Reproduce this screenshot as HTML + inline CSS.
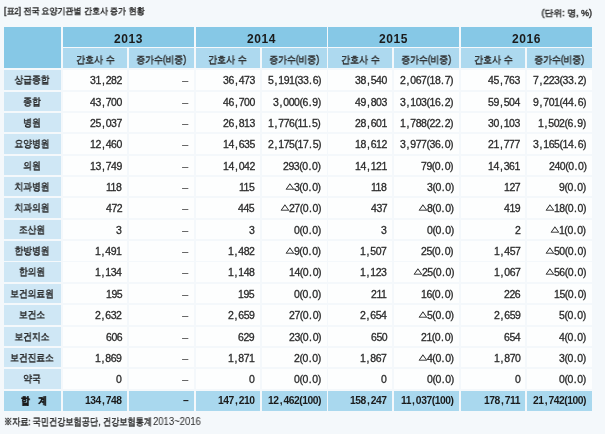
<!DOCTYPE html>
<html lang="ko">
<head>
<meta charset="utf-8">
<title>표2</title>
<style>
html,body{margin:0;padding:0;background:#fff;}
body{width:609px;height:435px;position:relative;overflow:hidden;font-family:"Liberation Sans",sans-serif;color:#222;}
#bg{position:absolute;left:0;top:0;width:604.8px;height:434.2px;background:#F4F8FB;}
.c{position:absolute;box-sizing:border-box;white-space:nowrap;overflow:visible;}
.c span,.cap span{display:inline-block;will-change:transform;filter:blur(.3px);}
.k{transform:scaleX(0.87);-webkit-text-stroke:.4px currentColor;}
.y{background:#86C8E6;text-align:center;font-weight:bold;font-size:12px;letter-spacing:.6px;color:#1a1a1a;}
.s{background:#ADD9EF;text-align:center;font-size:10.0px;color:#2a2a2a;}
.l{background:#CFE7F5;text-align:center;font-size:10.0px;color:#222;}
.d{background:#FDFEFE;text-align:right;font-size:10.5px;padding-right:5.8px;color:#2a2a2a;}
.p1,.p3{padding-right:5.2px;}.p6{padding-right:5.3px;}.p7{padding-right:5px;}
.d span.m{color:#555;transform:translate(-.8px,-.3px);}
.d span{letter-spacing:-.45px;}
u{text-decoration:none;margin-left:1.1px;letter-spacing:.9px;}
u.p{margin-left:.8px;letter-spacing:.7px;}
.d span{transform-origin:100% 50%;will-change:transform;-webkit-text-stroke:.3px currentColor;}
.y span{will-change:transform;}
.d.t span{-webkit-text-stroke:0;}
.t{background:#A9D8EE;font-weight:bold;color:#1a1a1a;}
.l.t{word-spacing:7.5px;padding-left:3px;}
.l.t .k{-webkit-text-stroke:.45px currentColor;}
.d.t{font-size:10.3px;}
.h{background:#86C8E6;}
.cap{position:absolute;font-size:10.0px;color:#2a2a2a;white-space:nowrap;}
.cap.le span{transform-origin:0 50%;}
.cap.ri span{transform-origin:100% 50%;}
i{font-style:normal;font-size:8px;display:inline-block;transform:translateY(-2.6px) scale(1.2,.85);transform-origin:50% 85%;-webkit-text-stroke:.4px currentColor;margin:0 .6px 0 .8px;}
</style>
</head>
<body>
<div id="bg"></div>
<div class="cap le" style="left:3.70px;top:4.80px;font-size:9px;"><span class="k" style="transform:scaleX(.89)">[표2] 전국 요양기관별 간호사 증가 현황</span></div>
<div class="cap ri" style="right:17.20px;top:7.00px;font-size:9px;"><span class="k" style="transform:scaleX(.99)">(단위: 명, %)</span></div>
<div class="c h" style="left:3.80px;top:26.90px;width:56.80px;height:41.00px;line-height:41.00px;"></div>
<div class="c y" style="left:63.30px;top:26.90px;width:130.55px;height:20.00px;line-height:24.20px;"><span>2013</span></div>
<div class="c s" style="left:63.30px;top:47.80px;width:63.75px;height:20.05px;line-height:23.05px;"><span class="k" style="transform:scaleX(.9)">간호사 수</span></div>
<div class="c s" style="left:128.95px;top:47.80px;width:64.90px;height:20.05px;line-height:23.05px;"><span class="k" style="transform:scaleX(.88)">증가수(비중)</span></div>
<div class="c y" style="left:195.75px;top:26.90px;width:130.80px;height:20.00px;line-height:24.20px;"><span>2014</span></div>
<div class="c s" style="left:195.75px;top:47.80px;width:63.90px;height:20.05px;line-height:23.05px;"><span class="k" style="transform:scaleX(.9)">간호사 수</span></div>
<div class="c s" style="left:261.55px;top:47.80px;width:65.00px;height:20.05px;line-height:23.05px;"><span class="k" style="transform:scaleX(.88)">증가수(비중)</span></div>
<div class="c y" style="left:328.45px;top:26.90px;width:130.40px;height:20.00px;line-height:24.20px;"><span>2015</span></div>
<div class="c s" style="left:328.45px;top:47.80px;width:64.05px;height:20.05px;line-height:23.05px;"><span class="k" style="transform:scaleX(.9)">간호사 수</span></div>
<div class="c s" style="left:394.40px;top:47.80px;width:64.45px;height:20.05px;line-height:23.05px;"><span class="k" style="transform:scaleX(.88)">증가수(비중)</span></div>
<div class="c y" style="left:460.75px;top:26.90px;width:131.15px;height:20.00px;line-height:24.20px;"><span>2016</span></div>
<div class="c s" style="left:460.75px;top:47.80px;width:64.40px;height:20.05px;line-height:23.05px;"><span class="k" style="transform:scaleX(.9)">간호사 수</span></div>
<div class="c s" style="left:527.05px;top:47.80px;width:64.85px;height:20.05px;line-height:23.05px;"><span class="k" style="transform:scaleX(.88)">증가수(비중)</span></div>
<div class="c l" style="left:3.80px;top:70.15px;width:56.80px;height:19.40px;line-height:20.20px;"><span class="k">상급종합</span></div>
<div class="c d p1" style="left:63.30px;top:70.15px;width:63.75px;height:19.40px;line-height:21.70px;"><span>31<u>,</u>282</span></div>
<div class="c d p2" style="left:128.95px;top:70.15px;width:64.90px;height:19.40px;line-height:21.70px;"><span class="m">–</span></div>
<div class="c d p3" style="left:195.75px;top:70.15px;width:63.90px;height:19.40px;line-height:21.70px;"><span>36<u>,</u>473</span></div>
<div class="c d p4" style="left:261.55px;top:70.15px;width:65.00px;height:19.40px;line-height:21.70px;"><span>5<u>,</u>191(33<u class="p">.</u>6)</span></div>
<div class="c d p5" style="left:328.45px;top:70.15px;width:64.05px;height:19.40px;line-height:21.70px;"><span>38<u>,</u>540</span></div>
<div class="c d p6" style="left:394.40px;top:70.15px;width:64.45px;height:19.40px;line-height:21.70px;"><span>2<u>,</u>067(18<u class="p">.</u>7)</span></div>
<div class="c d p7" style="left:460.75px;top:70.15px;width:64.40px;height:19.40px;line-height:21.70px;"><span>45<u>,</u>763</span></div>
<div class="c d p8" style="left:527.05px;top:70.15px;width:64.85px;height:19.40px;line-height:21.70px;"><span>7<u>,</u>223(33<u class="p">.</u>2)</span></div>
<div class="c l" style="left:3.80px;top:91.52px;width:56.80px;height:19.40px;line-height:20.20px;"><span class="k">종합</span></div>
<div class="c d p1" style="left:63.30px;top:91.52px;width:63.75px;height:19.40px;line-height:21.70px;"><span>43<u>,</u>700</span></div>
<div class="c d p2" style="left:128.95px;top:91.52px;width:64.90px;height:19.40px;line-height:21.70px;"><span class="m">–</span></div>
<div class="c d p3" style="left:195.75px;top:91.52px;width:63.90px;height:19.40px;line-height:21.70px;"><span>46<u>,</u>700</span></div>
<div class="c d p4" style="left:261.55px;top:91.52px;width:65.00px;height:19.40px;line-height:21.70px;"><span>3<u>,</u>000(6<u class="p">.</u>9)</span></div>
<div class="c d p5" style="left:328.45px;top:91.52px;width:64.05px;height:19.40px;line-height:21.70px;"><span>49<u>,</u>803</span></div>
<div class="c d p6" style="left:394.40px;top:91.52px;width:64.45px;height:19.40px;line-height:21.70px;"><span>3<u>,</u>103(16<u class="p">.</u>2)</span></div>
<div class="c d p7" style="left:460.75px;top:91.52px;width:64.40px;height:19.40px;line-height:21.70px;"><span>59<u>,</u>504</span></div>
<div class="c d p8" style="left:527.05px;top:91.52px;width:64.85px;height:19.40px;line-height:21.70px;"><span>9<u>,</u>701(44<u class="p">.</u>6)</span></div>
<div class="c l" style="left:3.80px;top:112.89px;width:56.80px;height:19.40px;line-height:20.20px;"><span class="k">병원</span></div>
<div class="c d p1" style="left:63.30px;top:112.89px;width:63.75px;height:19.40px;line-height:21.70px;"><span>25<u>,</u>037</span></div>
<div class="c d p2" style="left:128.95px;top:112.89px;width:64.90px;height:19.40px;line-height:21.70px;"><span class="m">–</span></div>
<div class="c d p3" style="left:195.75px;top:112.89px;width:63.90px;height:19.40px;line-height:21.70px;"><span>26<u>,</u>813</span></div>
<div class="c d p4" style="left:261.55px;top:112.89px;width:65.00px;height:19.40px;line-height:21.70px;"><span>1<u>,</u>776(11<u class="p">.</u>5)</span></div>
<div class="c d p5" style="left:328.45px;top:112.89px;width:64.05px;height:19.40px;line-height:21.70px;"><span>28<u>,</u>601</span></div>
<div class="c d p6" style="left:394.40px;top:112.89px;width:64.45px;height:19.40px;line-height:21.70px;"><span>1<u>,</u>788(22<u class="p">.</u>2)</span></div>
<div class="c d p7" style="left:460.75px;top:112.89px;width:64.40px;height:19.40px;line-height:21.70px;"><span>30<u>,</u>103</span></div>
<div class="c d p8" style="left:527.05px;top:112.89px;width:64.85px;height:19.40px;line-height:21.70px;"><span>1<u>,</u>502(6<u class="p">.</u>9)</span></div>
<div class="c l" style="left:3.80px;top:134.26px;width:56.80px;height:19.40px;line-height:20.20px;"><span class="k">요양병원</span></div>
<div class="c d p1" style="left:63.30px;top:134.26px;width:63.75px;height:19.40px;line-height:21.70px;"><span>12<u>,</u>460</span></div>
<div class="c d p2" style="left:128.95px;top:134.26px;width:64.90px;height:19.40px;line-height:21.70px;"><span class="m">–</span></div>
<div class="c d p3" style="left:195.75px;top:134.26px;width:63.90px;height:19.40px;line-height:21.70px;"><span>14<u>,</u>635</span></div>
<div class="c d p4" style="left:261.55px;top:134.26px;width:65.00px;height:19.40px;line-height:21.70px;"><span>2<u>,</u>175(17<u class="p">.</u>5)</span></div>
<div class="c d p5" style="left:328.45px;top:134.26px;width:64.05px;height:19.40px;line-height:21.70px;"><span>18<u>,</u>612</span></div>
<div class="c d p6" style="left:394.40px;top:134.26px;width:64.45px;height:19.40px;line-height:21.70px;"><span>3<u>,</u>977(36<u class="p">.</u>0)</span></div>
<div class="c d p7" style="left:460.75px;top:134.26px;width:64.40px;height:19.40px;line-height:21.70px;"><span>21<u>,</u>777</span></div>
<div class="c d p8" style="left:527.05px;top:134.26px;width:64.85px;height:19.40px;line-height:21.70px;"><span>3<u>,</u>165(14<u class="p">.</u>6)</span></div>
<div class="c l" style="left:3.80px;top:155.63px;width:56.80px;height:19.40px;line-height:20.20px;"><span class="k">의원</span></div>
<div class="c d p1" style="left:63.30px;top:155.63px;width:63.75px;height:19.40px;line-height:21.70px;"><span>13<u>,</u>749</span></div>
<div class="c d p2" style="left:128.95px;top:155.63px;width:64.90px;height:19.40px;line-height:21.70px;"><span class="m">–</span></div>
<div class="c d p3" style="left:195.75px;top:155.63px;width:63.90px;height:19.40px;line-height:21.70px;"><span>14<u>,</u>042</span></div>
<div class="c d p4" style="left:261.55px;top:155.63px;width:65.00px;height:19.40px;line-height:21.70px;"><span>293(0<u class="p">.</u>0)</span></div>
<div class="c d p5" style="left:328.45px;top:155.63px;width:64.05px;height:19.40px;line-height:21.70px;"><span>14<u>,</u>121</span></div>
<div class="c d p6" style="left:394.40px;top:155.63px;width:64.45px;height:19.40px;line-height:21.70px;"><span>79(0<u class="p">.</u>0)</span></div>
<div class="c d p7" style="left:460.75px;top:155.63px;width:64.40px;height:19.40px;line-height:21.70px;"><span>14<u>,</u>361</span></div>
<div class="c d p8" style="left:527.05px;top:155.63px;width:64.85px;height:19.40px;line-height:21.70px;"><span>240(0<u class="p">.</u>0)</span></div>
<div class="c l" style="left:3.80px;top:177.00px;width:56.80px;height:19.40px;line-height:20.20px;"><span class="k">치과병원</span></div>
<div class="c d p1" style="left:63.30px;top:177.00px;width:63.75px;height:19.40px;line-height:21.70px;"><span>118</span></div>
<div class="c d p2" style="left:128.95px;top:177.00px;width:64.90px;height:19.40px;line-height:21.70px;"><span class="m">–</span></div>
<div class="c d p3" style="left:195.75px;top:177.00px;width:63.90px;height:19.40px;line-height:21.70px;"><span>115</span></div>
<div class="c d p4" style="left:261.55px;top:177.00px;width:65.00px;height:19.40px;line-height:21.70px;"><span><i>△</i>3(0<u class="p">.</u>0)</span></div>
<div class="c d p5" style="left:328.45px;top:177.00px;width:64.05px;height:19.40px;line-height:21.70px;"><span>118</span></div>
<div class="c d p6" style="left:394.40px;top:177.00px;width:64.45px;height:19.40px;line-height:21.70px;"><span>3(0<u class="p">.</u>0)</span></div>
<div class="c d p7" style="left:460.75px;top:177.00px;width:64.40px;height:19.40px;line-height:21.70px;"><span>127</span></div>
<div class="c d p8" style="left:527.05px;top:177.00px;width:64.85px;height:19.40px;line-height:21.70px;"><span>9(0<u class="p">.</u>0)</span></div>
<div class="c l" style="left:3.80px;top:198.37px;width:56.80px;height:19.40px;line-height:20.20px;"><span class="k">치과의원</span></div>
<div class="c d p1" style="left:63.30px;top:198.37px;width:63.75px;height:19.40px;line-height:21.70px;"><span>472</span></div>
<div class="c d p2" style="left:128.95px;top:198.37px;width:64.90px;height:19.40px;line-height:21.70px;"><span class="m">–</span></div>
<div class="c d p3" style="left:195.75px;top:198.37px;width:63.90px;height:19.40px;line-height:21.70px;"><span>445</span></div>
<div class="c d p4" style="left:261.55px;top:198.37px;width:65.00px;height:19.40px;line-height:21.70px;"><span><i>△</i>27(0<u class="p">.</u>0)</span></div>
<div class="c d p5" style="left:328.45px;top:198.37px;width:64.05px;height:19.40px;line-height:21.70px;"><span>437</span></div>
<div class="c d p6" style="left:394.40px;top:198.37px;width:64.45px;height:19.40px;line-height:21.70px;"><span><i>△</i>8(0<u class="p">.</u>0)</span></div>
<div class="c d p7" style="left:460.75px;top:198.37px;width:64.40px;height:19.40px;line-height:21.70px;"><span>419</span></div>
<div class="c d p8" style="left:527.05px;top:198.37px;width:64.85px;height:19.40px;line-height:21.70px;"><span><i>△</i>18(0<u class="p">.</u>0)</span></div>
<div class="c l" style="left:3.80px;top:219.74px;width:56.80px;height:19.40px;line-height:20.20px;"><span class="k">조산원</span></div>
<div class="c d p1" style="left:63.30px;top:219.74px;width:63.75px;height:19.40px;line-height:21.70px;"><span>3</span></div>
<div class="c d p2" style="left:128.95px;top:219.74px;width:64.90px;height:19.40px;line-height:21.70px;"><span class="m">–</span></div>
<div class="c d p3" style="left:195.75px;top:219.74px;width:63.90px;height:19.40px;line-height:21.70px;"><span>3</span></div>
<div class="c d p4" style="left:261.55px;top:219.74px;width:65.00px;height:19.40px;line-height:21.70px;"><span>0(0<u class="p">.</u>0)</span></div>
<div class="c d p5" style="left:328.45px;top:219.74px;width:64.05px;height:19.40px;line-height:21.70px;"><span>3</span></div>
<div class="c d p6" style="left:394.40px;top:219.74px;width:64.45px;height:19.40px;line-height:21.70px;"><span>0(0<u class="p">.</u>0)</span></div>
<div class="c d p7" style="left:460.75px;top:219.74px;width:64.40px;height:19.40px;line-height:21.70px;"><span>2</span></div>
<div class="c d p8" style="left:527.05px;top:219.74px;width:64.85px;height:19.40px;line-height:21.70px;"><span><i>△</i>1(0<u class="p">.</u>0)</span></div>
<div class="c l" style="left:3.80px;top:241.11px;width:56.80px;height:19.40px;line-height:20.20px;"><span class="k">한방병원</span></div>
<div class="c d p1" style="left:63.30px;top:241.11px;width:63.75px;height:19.40px;line-height:21.70px;"><span>1<u>,</u>491</span></div>
<div class="c d p2" style="left:128.95px;top:241.11px;width:64.90px;height:19.40px;line-height:21.70px;"><span class="m">–</span></div>
<div class="c d p3" style="left:195.75px;top:241.11px;width:63.90px;height:19.40px;line-height:21.70px;"><span>1<u>,</u>482</span></div>
<div class="c d p4" style="left:261.55px;top:241.11px;width:65.00px;height:19.40px;line-height:21.70px;"><span><i>△</i>9(0<u class="p">.</u>0)</span></div>
<div class="c d p5" style="left:328.45px;top:241.11px;width:64.05px;height:19.40px;line-height:21.70px;"><span>1<u>,</u>507</span></div>
<div class="c d p6" style="left:394.40px;top:241.11px;width:64.45px;height:19.40px;line-height:21.70px;"><span>25(0<u class="p">.</u>0)</span></div>
<div class="c d p7" style="left:460.75px;top:241.11px;width:64.40px;height:19.40px;line-height:21.70px;"><span>1<u>,</u>457</span></div>
<div class="c d p8" style="left:527.05px;top:241.11px;width:64.85px;height:19.40px;line-height:21.70px;"><span><i>△</i>50(0<u class="p">.</u>0)</span></div>
<div class="c l" style="left:3.80px;top:262.48px;width:56.80px;height:19.40px;line-height:20.20px;"><span class="k">한의원</span></div>
<div class="c d p1" style="left:63.30px;top:262.48px;width:63.75px;height:19.40px;line-height:21.70px;"><span>1<u>,</u>134</span></div>
<div class="c d p2" style="left:128.95px;top:262.48px;width:64.90px;height:19.40px;line-height:21.70px;"><span class="m">–</span></div>
<div class="c d p3" style="left:195.75px;top:262.48px;width:63.90px;height:19.40px;line-height:21.70px;"><span>1<u>,</u>148</span></div>
<div class="c d p4" style="left:261.55px;top:262.48px;width:65.00px;height:19.40px;line-height:21.70px;"><span>14(0<u class="p">.</u>0)</span></div>
<div class="c d p5" style="left:328.45px;top:262.48px;width:64.05px;height:19.40px;line-height:21.70px;"><span>1<u>,</u>123</span></div>
<div class="c d p6" style="left:394.40px;top:262.48px;width:64.45px;height:19.40px;line-height:21.70px;"><span><i>△</i>25(0<u class="p">.</u>0)</span></div>
<div class="c d p7" style="left:460.75px;top:262.48px;width:64.40px;height:19.40px;line-height:21.70px;"><span>1<u>,</u>067</span></div>
<div class="c d p8" style="left:527.05px;top:262.48px;width:64.85px;height:19.40px;line-height:21.70px;"><span><i>△</i>56(0<u class="p">.</u>0)</span></div>
<div class="c l" style="left:3.80px;top:283.85px;width:56.80px;height:19.40px;line-height:20.20px;"><span class="k">보건의료원</span></div>
<div class="c d p1" style="left:63.30px;top:283.85px;width:63.75px;height:19.40px;line-height:21.70px;"><span>195</span></div>
<div class="c d p2" style="left:128.95px;top:283.85px;width:64.90px;height:19.40px;line-height:21.70px;"><span class="m">–</span></div>
<div class="c d p3" style="left:195.75px;top:283.85px;width:63.90px;height:19.40px;line-height:21.70px;"><span>195</span></div>
<div class="c d p4" style="left:261.55px;top:283.85px;width:65.00px;height:19.40px;line-height:21.70px;"><span>0(0<u class="p">.</u>0)</span></div>
<div class="c d p5" style="left:328.45px;top:283.85px;width:64.05px;height:19.40px;line-height:21.70px;"><span>211</span></div>
<div class="c d p6" style="left:394.40px;top:283.85px;width:64.45px;height:19.40px;line-height:21.70px;"><span>16(0<u class="p">.</u>0)</span></div>
<div class="c d p7" style="left:460.75px;top:283.85px;width:64.40px;height:19.40px;line-height:21.70px;"><span>226</span></div>
<div class="c d p8" style="left:527.05px;top:283.85px;width:64.85px;height:19.40px;line-height:21.70px;"><span>15(0<u class="p">.</u>0)</span></div>
<div class="c l" style="left:3.80px;top:305.22px;width:56.80px;height:19.40px;line-height:20.20px;"><span class="k">보건소</span></div>
<div class="c d p1" style="left:63.30px;top:305.22px;width:63.75px;height:19.40px;line-height:21.70px;"><span>2<u>,</u>632</span></div>
<div class="c d p2" style="left:128.95px;top:305.22px;width:64.90px;height:19.40px;line-height:21.70px;"><span class="m">–</span></div>
<div class="c d p3" style="left:195.75px;top:305.22px;width:63.90px;height:19.40px;line-height:21.70px;"><span>2<u>,</u>659</span></div>
<div class="c d p4" style="left:261.55px;top:305.22px;width:65.00px;height:19.40px;line-height:21.70px;"><span>27(0<u class="p">.</u>0)</span></div>
<div class="c d p5" style="left:328.45px;top:305.22px;width:64.05px;height:19.40px;line-height:21.70px;"><span>2<u>,</u>654</span></div>
<div class="c d p6" style="left:394.40px;top:305.22px;width:64.45px;height:19.40px;line-height:21.70px;"><span><i>△</i>5(0<u class="p">.</u>0)</span></div>
<div class="c d p7" style="left:460.75px;top:305.22px;width:64.40px;height:19.40px;line-height:21.70px;"><span>2<u>,</u>659</span></div>
<div class="c d p8" style="left:527.05px;top:305.22px;width:64.85px;height:19.40px;line-height:21.70px;"><span>5(0<u class="p">.</u>0)</span></div>
<div class="c l" style="left:3.80px;top:326.59px;width:56.80px;height:19.40px;line-height:20.20px;"><span class="k">보건지소</span></div>
<div class="c d p1" style="left:63.30px;top:326.59px;width:63.75px;height:19.40px;line-height:21.70px;"><span>606</span></div>
<div class="c d p2" style="left:128.95px;top:326.59px;width:64.90px;height:19.40px;line-height:21.70px;"><span class="m">–</span></div>
<div class="c d p3" style="left:195.75px;top:326.59px;width:63.90px;height:19.40px;line-height:21.70px;"><span>629</span></div>
<div class="c d p4" style="left:261.55px;top:326.59px;width:65.00px;height:19.40px;line-height:21.70px;"><span>23(0<u class="p">.</u>0)</span></div>
<div class="c d p5" style="left:328.45px;top:326.59px;width:64.05px;height:19.40px;line-height:21.70px;"><span>650</span></div>
<div class="c d p6" style="left:394.40px;top:326.59px;width:64.45px;height:19.40px;line-height:21.70px;"><span>21(0<u class="p">.</u>0)</span></div>
<div class="c d p7" style="left:460.75px;top:326.59px;width:64.40px;height:19.40px;line-height:21.70px;"><span>654</span></div>
<div class="c d p8" style="left:527.05px;top:326.59px;width:64.85px;height:19.40px;line-height:21.70px;"><span>4(0<u class="p">.</u>0)</span></div>
<div class="c l" style="left:3.80px;top:347.96px;width:56.80px;height:19.40px;line-height:20.20px;"><span class="k">보건진료소</span></div>
<div class="c d p1" style="left:63.30px;top:347.96px;width:63.75px;height:19.40px;line-height:21.70px;"><span>1<u>,</u>869</span></div>
<div class="c d p2" style="left:128.95px;top:347.96px;width:64.90px;height:19.40px;line-height:21.70px;"><span class="m">–</span></div>
<div class="c d p3" style="left:195.75px;top:347.96px;width:63.90px;height:19.40px;line-height:21.70px;"><span>1<u>,</u>871</span></div>
<div class="c d p4" style="left:261.55px;top:347.96px;width:65.00px;height:19.40px;line-height:21.70px;"><span>2(0<u class="p">.</u>0)</span></div>
<div class="c d p5" style="left:328.45px;top:347.96px;width:64.05px;height:19.40px;line-height:21.70px;"><span>1<u>,</u>867</span></div>
<div class="c d p6" style="left:394.40px;top:347.96px;width:64.45px;height:19.40px;line-height:21.70px;"><span><i>△</i>4(0<u class="p">.</u>0)</span></div>
<div class="c d p7" style="left:460.75px;top:347.96px;width:64.40px;height:19.40px;line-height:21.70px;"><span>1<u>,</u>870</span></div>
<div class="c d p8" style="left:527.05px;top:347.96px;width:64.85px;height:19.40px;line-height:21.70px;"><span>3(0<u class="p">.</u>0)</span></div>
<div class="c l" style="left:3.80px;top:369.33px;width:56.80px;height:19.40px;line-height:20.20px;"><span class="k">약국</span></div>
<div class="c d p1" style="left:63.30px;top:369.33px;width:63.75px;height:19.40px;line-height:21.70px;"><span>0</span></div>
<div class="c d p2" style="left:128.95px;top:369.33px;width:64.90px;height:19.40px;line-height:21.70px;"><span class="m">–</span></div>
<div class="c d p3" style="left:195.75px;top:369.33px;width:63.90px;height:19.40px;line-height:21.70px;"><span>0</span></div>
<div class="c d p4" style="left:261.55px;top:369.33px;width:65.00px;height:19.40px;line-height:21.70px;"><span>0(0<u class="p">.</u>0)</span></div>
<div class="c d p5" style="left:328.45px;top:369.33px;width:64.05px;height:19.40px;line-height:21.70px;"><span>0</span></div>
<div class="c d p6" style="left:394.40px;top:369.33px;width:64.45px;height:19.40px;line-height:21.70px;"><span>0(0<u class="p">.</u>0)</span></div>
<div class="c d p7" style="left:460.75px;top:369.33px;width:64.40px;height:19.40px;line-height:21.70px;"><span>0</span></div>
<div class="c d p8" style="left:527.05px;top:369.33px;width:64.85px;height:19.40px;line-height:21.70px;"><span>0(0<u class="p">.</u>0)</span></div>
<div class="c l t" style="left:3.80px;top:390.65px;width:56.80px;height:20.20px;line-height:19.00px;"><span class="k">합 계</span></div>
<div class="c d p1 t" style="left:63.30px;top:390.65px;width:63.75px;height:20.20px;line-height:20.50px;"><span>134<u>,</u>748</span></div>
<div class="c d p2 t" style="left:128.95px;top:390.65px;width:64.90px;height:20.20px;line-height:20.50px;"><span>–</span></div>
<div class="c d p3 t" style="left:195.75px;top:390.65px;width:63.90px;height:20.20px;line-height:20.50px;"><span>147<u>,</u>210</span></div>
<div class="c d p4 t" style="left:261.55px;top:390.65px;width:65.00px;height:20.20px;line-height:20.50px;"><span>12<u>,</u>462(100)</span></div>
<div class="c d p5 t" style="left:328.45px;top:390.65px;width:64.05px;height:20.20px;line-height:20.50px;"><span>158<u>,</u>247</span></div>
<div class="c d p6 t" style="left:394.40px;top:390.65px;width:64.45px;height:20.20px;line-height:20.50px;"><span>11<u>,</u>037(100)</span></div>
<div class="c d p7 t" style="left:460.75px;top:390.65px;width:64.40px;height:20.20px;line-height:20.50px;"><span>178<u>,</u>711</span></div>
<div class="c d p8 t" style="left:527.05px;top:390.65px;width:64.85px;height:20.20px;line-height:20.50px;"><span>21<u>,</u>742(100)</span></div>
<div class="cap le" style="left:3.80px;top:415.80px;font-size:9.5px;"><span class="k" style="transform:scaleX(.818)">※자료: 국민건강보험공단, 건강보험통계</span></div>
<div class="cap le" style="left:153.4px;top:416.00px;font-size:10px;"><span class="n" style="transform:scaleX(.95)">2013~2016</span></div>
<script>
(function(){
  /* keep Korean labels at their measured widths even if the fallback font differs */
  var W={"[표2] 전국 요양기관별 간호사 증가 현황":140.2,"(단위: 명, %)":50.5,"간호사 수":38.5,"증가수(비중)":49.9,"합 계":26.3,"※자료: 국민건강보험공단, 건강보험통계":147.7};
  var e=document.querySelectorAll('.k');
  for(var i=0;i<e.length;i++){
    var s=e[i],t=s.textContent,w=W[t]||8.7*t.length;
    s.style.transform='none';
    var n=s.getBoundingClientRect().width;
    if(n>0){s.style.transform='scaleX('+(w/n).toFixed(4)+')';}
  }
})();
</script>
</body>
</html>
